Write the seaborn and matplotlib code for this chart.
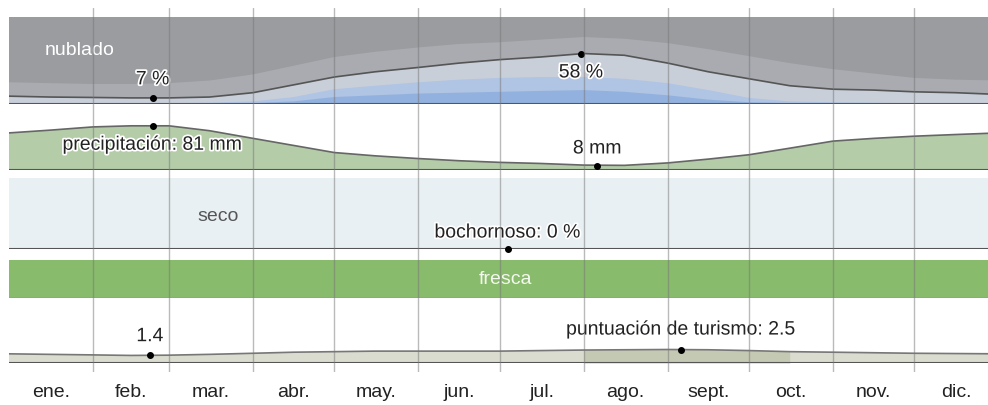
import numpy as np
import pandas as pd
import matplotlib
matplotlib.use("Agg")
import matplotlib.pyplot as plt
import matplotlib.patheffects as pe
import seaborn as sns

sns.set_theme(style="white")
plt.rcParams["font.family"] = ["Liberation Sans", "DejaVu Sans"]

# ---- data (day of year, semi-monthly) ----
days = [0, 15, 31, 45, 59, 74, 90, 105, 120, 135, 151, 166, 181,
        196, 212, 227, 243, 258, 273, 288, 304, 319, 334, 349, 365]

# cloud cover, cumulative % from the bottom
clear_pct = [0.5, 0.5, 0.5, 0.5, 0.5, 0.5, 1, 3, 8, 10, 12, 13, 14,
             15, 16, 14, 10, 5, 2, 1, 0.5, 0.5, 0.5, 0.5, 0.5]
mostly_clear_pct = [1, 1, 1, 1, 1, 1.5, 3, 8, 17, 21, 25, 28, 30,
                    31, 31, 29, 24, 16, 7, 3, 2, 1.5, 1, 1, 1]
partly_cloudy_pct = [9, 8, 7.5, 7, 7, 8, 13, 22, 31, 37, 42, 47, 51,
                     54, 58, 56, 47, 37, 29, 21, 17, 16, 14, 13, 11]
mostly_cloudy_pct = [25, 24, 23, 23, 24, 27, 34, 44, 54, 60, 65, 69, 71,
                     74, 77, 75, 70, 63, 55, 47, 40, 35, 30, 28, 27]

precip_mm = [68, 73, 79, 81, 81, 72, 58, 45, 32, 26, 21, 17, 14,
             12, 9, 8.5, 13, 20, 28, 40, 53, 58, 62, 65, 68]

tourism = [1.7, 1.6, 1.5, 1.4, 1.45, 1.6, 1.8, 2.0, 2.1, 2.2, 2.2, 2.2, 2.2,
           2.3, 2.4, 2.45, 2.5, 2.45, 2.3, 2.1, 2.0, 1.9, 1.8, 1.75, 1.7]
best_start, best_end = 212, 288

month_starts = [31, 59, 90, 120, 151, 181, 212, 243, 273, 304, 334]
month_mid = [15.5, 45, 74.5, 105, 135.5, 166, 196.5, 227.5, 258, 288.5, 319, 349.5]
month_names = ["ene.", "feb.", "mar.", "abr.", "may.", "jun.",
               "jul.", "ago.", "sept.", "oct.", "nov.", "dic."]

# annotated extremes: (day, value, label)
cloud_min = (53, 7, "7 %")
cloud_max = (211, 58, "58 %")
precip_max = (53, 81, "precipitación: 81 mm")
precip_min = (217, 8, "8 mm")
muggy = (184, 0, "bochornoso: 0 %")
tour_min = (52, 1.4, "1.4")
tour_max = (248, 2.5, "puntuación de turismo: 2.5")

df = pd.DataFrame({"day": days, "clear": clear_pct, "mclear": mostly_clear_pct,
                   "partly": partly_cloudy_pct, "mcloudy": mostly_cloudy_pct,
                   "precip": precip_mm, "tourism": tourism})

W, H = 988, 405
fig = plt.figure(figsize=(W / 100, H / 100), dpi=100)
X0, X1 = 9, 998.5  # the year runs slightly past the right edge


def band(top, bottom, z=1):
    ax = fig.add_axes([X0 / W, 1 - bottom / H, (X1 - X0) / W, (bottom - top) / H], zorder=z)
    ax.set_xlim(0, 365)
    ax.axis("off")
    return ax


halo = [pe.withStroke(linewidth=2.5, foreground="white")]
TXT = dict(fontsize=14, color="#222222", ha="center", va="center",
           textcoords="offset points", path_effects=halo)


def mark(ax, pt, dy):
    ax.plot(pt[0], pt[1], "o", color="black", ms=4, clip_on=False, zorder=5)
    ax.annotate(pt[2], (pt[0], pt[1]), xytext=(0, dy), zorder=6, **TXT)


# ---- cloud band ----
ax = band(17, 104)
ax.set_ylim(0, 100)
ax.fill_between(df.day, 0, 100, color="#9b9ca0", lw=0)
ax.fill_between(df.day, 0, df.mcloudy, color="#a9abb1", lw=0)
ax.fill_between(df.day, 0, df.partly, color="#c9cfd9", lw=0)
ax.fill_between(df.day, 0, df.mclear, color="#b0c4e4", lw=0)
ax.fill_between(df.day, 0, df.clear, color="#93b1de", lw=0)
sns.lineplot(data=df, x="day", y="partly", ax=ax, color="#555555", lw=1.2)
ax.axhline(0, color="#4a5878", lw=1.5)
ax.axis("off")
mark(ax, cloud_min, 13)
mark(ax, cloud_max, -14)
ax.text(13, 62, "nublado", fontsize=14, color="white", ha="left", va="center")

# ---- precipitation band ----
ax = band(110, 170)
ax.set_ylim(0, 110)
ax.fill_between(df.day, 0, df.precip, color="#b4cca8", lw=0)
sns.lineplot(data=df, x="day", y="precip", ax=ax, color="#666666", lw=1.2)
ax.axhline(0, color="#555555", lw=1.5)
ax.axis("off")
mark(ax, precip_max, -14)
mark(ax, precip_min, 12)

# ---- humidity band ----
ax = band(178, 249)
ax.set_ylim(0, 1)
ax.axvspan(0, 365, color="#e8f0f3", lw=0)
ax.axhline(0, color="#555555", lw=1.5)
ax.text(77, 0.46, "seco", fontsize=14, color="#555555", ha="center", va="center")
mark(ax, muggy, 11.5)

# ---- temperature band ----
ax = band(260, 298)
ax.set_ylim(0, 1)
ax.axvspan(0, 365, color="#89bb6c", lw=0)
ax.axhline(0, color="#7a8a72", lw=1)
ax.text(183, 0.5, "fresca", fontsize=14, color="#f4f8ee", ha="center", va="center")

# ---- tourism band ----
ax = band(330, 363)
ax.set_ylim(0, 33 / 5.4)
ax.fill_between(df.day, 0, df.tourism, color="#dbdcd0", lw=0)
best = df[(df.day >= best_start) & (df.day <= best_end)]
ax.fill_between(best.day, 0, best.tourism, color="#c4c9b3", lw=0)
sns.lineplot(data=df, x="day", y="tourism", ax=ax, color="#777777", lw=1.2)
ax.axhline(0, color="#555555", lw=1.5)
ax.axis("off")
mark(ax, tour_min, 13.5)
mark(ax, tour_max, 14)

# ---- month grid + labels overlay ----
g = band(8, 372, z=10)
g.patch.set_alpha(0)
for d in month_starts:
    g.axvline(d, color="#777777", lw=1, alpha=0.5)
for d, name in zip(month_mid, month_names):
    g.text(d, -0.055, name, transform=g.get_xaxis_transform(), fontsize=14,
           color="#222222", ha="center", va="center")

fig.savefig("out.png", dpi=100)
